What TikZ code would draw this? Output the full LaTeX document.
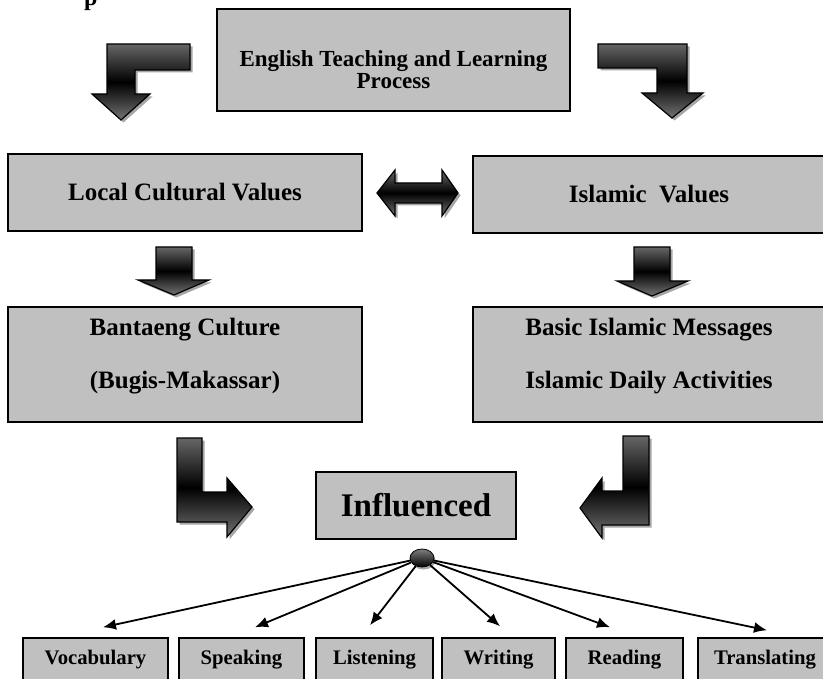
\documentclass[tikz,border=0pt]{standalone}
\usepackage{fontspec}
\setmainfont{Liberation Serif}
\usepackage{xcolor}
\usepackage{tikz}
\usetikzlibrary{positioning, arrows.meta, calc, shapes.geometric, shadows}
\definecolor{boxgrey}{RGB}{192,192,192}

\begin{document}
\begin{tikzpicture}[
    x=1pt, y=-1pt,
    greybox/.style={rectangle, draw=black, line width=1.5pt, fill=boxgrey, inner sep=0pt, align=center, font=\bfseries\fontsize{25}{53}\selectfont},
    smallbox/.style={greybox, minimum height=44pt, font=\bfseries\fontsize{20.7}{24}\selectfont},
    bigarrow/.style={draw=black, line width=1.2pt, line join=miter, top color=black!60, bottom color=black!55, middle color=black, drop shadow={shadow xshift=2.5pt, shadow yshift=-2.5pt, fill=black!35, opacity=1}},
    hubdot/.style={ellipse, draw=black, line width=0.8pt, minimum width=24pt, minimum height=18pt, inner sep=0pt, top color=black!50, bottom color=black, drop shadow={shadow xshift=1.5pt, shadow yshift=-2.5pt, fill=black!35, opacity=1}},
    spoke/.style={line width=1.8pt, -{Latex[length=13pt, width=11pt]}},
]
\useasboundingbox (0,0) rectangle (823,679);
\clip (0,0) rectangle (823,679);

\node[font=\bfseries\fontsize{24}{28}\selectfont, anchor=base west, inner sep=0pt](frag) at (84,6){p};

\node[greybox, minimum width=353pt, minimum height=102pt, font=\bfseries\fontsize{23}{22.5}\selectfont](etl) at (393.5,60){\rule{0pt}{35.5pt}English Teaching and Learning\\Process};
\node[greybox, minimum width=354pt, minimum height=77pt](lcv) at (185,192.5){Local Cultural Values};
\node[greybox, minimum width=352pt, minimum height=77pt](isv) at (649,194.5){Islamic\ \ Values};
\node[greybox, minimum width=354pt, minimum height=115pt](bant) at (185,364.5){Bantaeng Culture\\(Bugis-Makassar)\rule[-23pt]{0pt}{0pt}};
\node[greybox, minimum width=352pt, minimum height=115pt](bim) at (649,364.5){Basic Islamic Messages\\Islamic Daily Activities\rule[-23pt]{0pt}{0pt}};
\node[greybox, minimum width=200pt, minimum height=67pt, font=\bfseries\fontsize{33}{40}\selectfont](infl) at (416,505.5){Influenced};

\draw[bigarrow] (190,44) -- (190,70) -- (135,70) -- (135,94) -- (150,94) -- (121,120) -- (92,94) -- (107,94) -- (107,44) -- cycle;
\draw[bigarrow] (598,44) -- (687,44) -- (687,93) -- (703,93) -- (672,118) -- (642,93) -- (657,93) -- (657,68) -- (598,68) -- cycle;
\draw[bigarrow] (377,193) -- (395,170) -- (395,183) -- (442,183) -- (442,170) -- (458,193) -- (442,216) -- (442,203) -- (395,203) -- (395,216) -- cycle;
\draw[bigarrow] (156,247) -- (192,247) -- (192,280) -- (209,280) -- (174,295) -- (138,280) -- (156,280) -- cycle;
\draw[bigarrow] (634,247) -- (670,247) -- (670,281) -- (688,281) -- (652,296) -- (617,281) -- (634,281) -- cycle;
\draw[bigarrow] (177,438) -- (202,438) -- (202,492) -- (227,492) -- (227,478) -- (252,507) -- (227,537) -- (227,522) -- (177,522) -- cycle;
\draw[bigarrow] (623,436) -- (649,436) -- (649,525) -- (602,525) -- (602,538) -- (580,508) -- (602,478) -- (602,491) -- (623,491) -- cycle;

\node[hubdot](hub) at (422,558){};

\node[smallbox, minimum width=145pt](voc) at (95.5,660){Vocabulary};
\node[smallbox, minimum width=125pt](spk)[right=9.5pt of voc]{Speaking};
\node[smallbox, minimum width=117pt](lis)[right=10.5pt of spk]{Listening};
\node[smallbox, minimum width=113pt](wri)[right=7.5pt of lis]{Writing};
\node[smallbox, minimum width=117pt](rea)[right=9.5pt of wri]{Reading};
\node[smallbox, minimum width=134pt](tra)[right=13.5pt of rea]{Translating};

\draw[spoke] (hub) -- ([shift={(7.5,-10)}]voc.north);
\draw[spoke] (hub) -- ([shift={(13.5,-10)}]spk.north);
\draw[spoke] (hub) -- ([shift={(-4.5,-12)}]lis.north);
\draw[spoke] (hub) -- ([shift={(1.5,-11)}]wri.north);
\draw[spoke] (hub) -- ([shift={(-14.5,-10)}]rea.north);
\draw[spoke] (hub) -- ([shift={(2,-7)}]tra.north);
\end{tikzpicture}
\end{document}
